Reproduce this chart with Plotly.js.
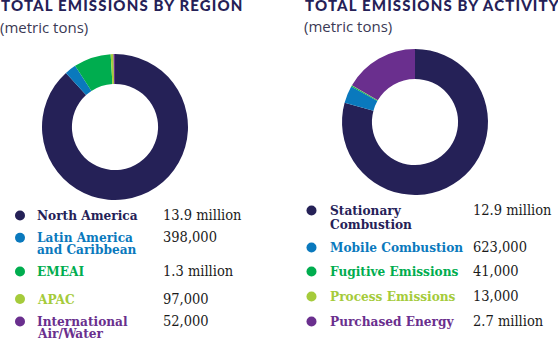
<!DOCTYPE html>
<html>
<head>
<meta charset="utf-8">
<script src="https://cdn.plot.ly/plotly-3.0.1.min.js"></script>
<style>
html,body{margin:0;padding:0;background:#fff;}
#chart{width:558px;height:339px;}
</style>
</head>
<body>
<div id="chart"></div>
<script>
// ---- data ----
const regionLabels = ['North America', 'Latin America<br>and Caribbean', 'EMEAI', 'APAC', 'International<br>Air/Water'];
const regionValues = [13900000, 398000, 1300000, 97000, 52000];
const regionValueText = ['13.9 million', '398,000', '1.3 million', '97,000', '52,000'];

const activityLabels = ['Stationary<br>Combustion', 'Mobile Combustion', 'Fugitive Emissions', 'Process Emissions', 'Purchased Energy'];
const activityValues = [12900000, 623000, 41000, 13000, 2700000];
const activityValueText = ['12.9 million', '623,000', '41,000', '13,000', '2.7 million'];

const colors = ['#252157', '#0a79bd', '#00ad4f', '#a5cb3b', '#6a2f8e'];

// ---- layout helpers ----
const W = 558, H = 339;
const px = x => x / W;
const py = y => 1 - y / H;

const regionRows = [215, 237.3, 271, 298.5, 321];
const activityRows = [210, 247, 271, 296, 321];

const annotations = [];
const shapes = [];

function addText(x, y, text, font, color) {
  annotations.push({
    xref: 'paper', yref: 'paper', x: px(x), y: py(y),
    xanchor: 'left', yanchor: 'middle', showarrow: false,
    text: text, font: Object.assign({color: color}, font)
  });
}

const titleFont = {family: 'Lato, "Open Sans", sans-serif', size: 15, weight: 900};
const subFont = {family: '"Open Sans", sans-serif', size: 15};
addText(-1, 4.5, 'TOTAL EMISSIONS BY REGION', titleFont, '#252157');
addText(303, 4.5, 'TOTAL EMISSIONS BY ACTIVITY', titleFont, '#252157');
addText(-2, 27, '(metric tons)', subFont, '#3b3a55');
addText(302, 26, '(metric tons)', subFont, '#3b3a55');

const labelFont = {family: '"DejaVu Serif Condensed", "DejaVu Serif", serif', size: 13.5, weight: 700};
const valueFont = {family: '"DejaVu Serif Condensed", "DejaVu Serif", serif', size: 14.5};

function addLegend(labels, valueText, rows, dotX, textX, valX, lineGap) {
  labels.forEach((lab, i) => {
    const y = rows[i];
    shapes.push({type: 'circle', xref: 'paper', yref: 'paper',
      x0: px(dotX - 5), x1: px(dotX + 5), y0: py(y - 4.5), y1: py(y + 5.5),
      fillcolor: colors[i], line: {width: 0}});
    lab.split('<br>').forEach((ln, j) => addText(textX, y + j * lineGap, ln, labelFont, colors[i]));
    addText(valX, y, valueText[i], valueFont, '#1b1b1b');
  });
}
addLegend(regionLabels, regionValueText, regionRows, 20, 35, 161, 12);
addLegend(activityLabels, activityValueText, activityRows, 311.5, 328, 471, 14);

const pieCommon = {
  type: 'pie', hole: 0.59, sort: false, direction: 'clockwise', rotation: 0,
  textinfo: 'none', hoverinfo: 'label+value', showlegend: false,
  marker: {colors: colors, line: {width: 0}}
};

const data = [
  Object.assign({}, pieCommon, {
    labels: regionLabels, values: regionValues,
    domain: {x: [px(42), px(188)], y: [py(200), py(54)]}
  }),
  Object.assign({}, pieCommon, {
    labels: activityLabels, values: activityValues,
    domain: {x: [px(342), px(488)], y: [py(195), py(49)]}
  })
];

const layout = {
  width: W, height: H,
  margin: {l: 0, r: 0, t: 0, b: 0},
  paper_bgcolor: '#fff', plot_bgcolor: '#fff',
  annotations: annotations, shapes: shapes
};

Plotly.newPlot('chart', data, layout, {displayModeBar: false, staticPlot: true}).then(() => {
  const texts = document.querySelectorAll('.annotation-text');
  [0, 1].forEach(k => {
    const t = texts[k];
    if (!t) return;
    const before = t.getBBox().x;
    t.style.letterSpacing = '1.15px';
    const after = t.getBBox().x;
    t.setAttribute('x', parseFloat(t.getAttribute('x') || 0) + (before - after));
  });
});
</script>
</body>
</html>
